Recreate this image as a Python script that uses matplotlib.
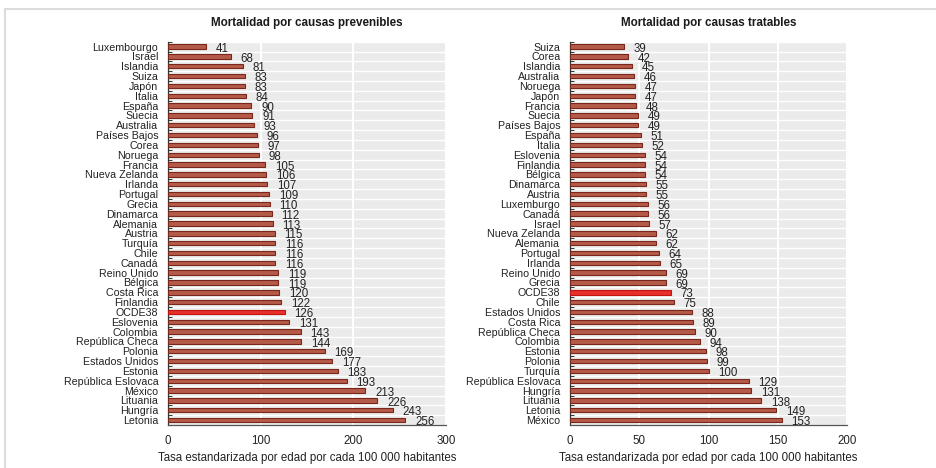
import matplotlib.pyplot as plt
from matplotlib.lines import Line2D
import numpy as np

plt.rcParams['font.family'] = ['Liberation Sans', 'DejaVu Sans']

BAR = '#b45a49'
BAR_EDGE = '#7a261b'
OECD = '#e8302a'
OECD_EDGE = '#c0140f'
PANEL = '#ebebeb'

# preventable causes
prev_countries = [
    'Luxembourgo', 'Israel', 'Islandia', 'Suiza', 'Japón', 'Italia', 'España', 'Suecia',
    'Australia', 'Países Bajos', 'Corea', 'Noruega', 'Francia', 'Nueva Zelanda', 'Irlanda',
    'Portugal', 'Grecia', 'Dinamarca', 'Alemania', 'Austria', 'Turquía', 'Chile', 'Canadá',
    'Reino Unido', 'Bélgica', 'Costa Rica', 'Finlandia', 'OCDE38', 'Eslovenia', 'Colombia',
    'República Checa', 'Polonia', 'Estados Unidos', 'Estonia', 'República Eslovaca',
    'México', 'Lituania', 'Hungría', 'Letonia',
]
prev_values = [
    41, 68, 81, 83, 83, 84, 90, 91, 93, 96, 97, 98, 105, 106, 107, 109, 110, 112, 113,
    115, 116, 116, 116, 119, 119, 120, 122, 126, 131, 143, 144, 169, 177, 183, 193,
    213, 226, 243, 256,
]

# treatable causes
treat_countries = [
    'Suiza', 'Corea', 'Islandia', 'Australia', 'Noruega', 'Japón', 'Francia', 'Suecia',
    'Países Bajos', 'España', 'Italia', 'Eslovenia', 'Finlandia', 'Bélgica', 'Dinamarca',
    'Austria', 'Luxemburgo', 'Canadá', 'Israel', 'Nueva Zelanda', 'Alemania', 'Portugal',
    'Irlanda', 'Reino Unido', 'Grecia', 'OCDE38', 'Chile', 'Estados Unidos', 'Costa Rica',
    'República Checa', 'Colombia', 'Estonia', 'Polonia', 'Turquía', 'República Eslovaca',
    'Hungría', 'Lituania', 'Letonia', 'México',
]
treat_values = [
    39, 42, 45, 46, 47, 47, 48, 49, 49, 51, 52, 54, 54, 54, 55, 55, 56, 56, 57, 62, 62,
    64, 65, 69, 69, 73, 75, 88, 89, 90, 94, 98, 99, 100, 129, 131, 138, 149, 153,
]

XLABEL = 'Tasa estandarizada por edad por cada 100 000 habitantes'

fig = plt.figure(figsize=(9.36, 4.68), dpi=100)

# light frame from the screenshot
fig.add_artist(Line2D([5 / 936, 1], [1 - 9 / 468] * 2, color='#dcdcdc', lw=1.5))
fig.add_artist(Line2D([5 / 936] * 2, [0, 1 - 9 / 468], color='#dcdcdc', lw=1.5))


def draw(ax, countries, values, xmax, xticks, title):
    n = len(countries)
    y = np.arange(n)
    colors = [OECD if c == 'OCDE38' else BAR for c in countries]
    edges = [OECD_EDGE if c == 'OCDE38' else BAR_EDGE for c in countries]
    ax.barh(y, values, height=0.45, color=colors, edgecolor=edges, linewidth=0.8, zorder=3)
    for yi, v in zip(y, values):
        ax.annotate(str(v), (v, yi), xytext=(7, -1.5), textcoords='offset points',
                    va='center', ha='left', fontsize=8.3, color='#222222', zorder=4)

    ax.set_facecolor(PANEL)
    ax.set_xlim(0, xmax)
    ax.set_ylim(n - 0.5, -0.5)
    ax.set_xticks(xticks)
    ax.set_yticks(y)
    ax.set_yticklabels(countries, fontsize=7.7, color='#222222')
    ax.set_yticks(np.arange(n + 1) - 0.5, minor=True)
    ax.tick_params(axis='y', which='major', length=0, pad=7)
    ax.tick_params(axis='y', which='minor', direction='in', length=3, width=0.7, color='#333333')
    ax.tick_params(axis='x', length=0, labelsize=8.3, pad=7, labelcolor='#222222')

    ax.grid(axis='x', color='white', lw=1.5, zorder=1)
    ax.grid(axis='y', which='minor', color='white', lw=1.0, zorder=1)
    ax.grid(axis='y', which='major', visible=False)

    for s in ['top', 'right']:
        ax.spines[s].set_visible(False)
    ax.spines['left'].set_color('#333333')
    ax.spines['left'].set_linewidth(0.9)
    ax.spines['bottom'].set_color('#555555')
    ax.spines['bottom'].set_linewidth(0.9)

    ax.set_xlabel(XLABEL, fontsize=8.3, labelpad=4, color='#222222')
    ax.set_title(title, fontsize=8.4, fontweight='bold', pad=11, color='#1a1a1a')


ax1 = fig.add_axes([168 / 936, 1 - 425 / 468, 278 / 936, 383.3 / 468])
draw(ax1, prev_countries, prev_values, 300, [0, 100, 200, 300],
     'Mortalidad por causas prevenibles')

ax2 = fig.add_axes([570 / 936, 1 - 425 / 468, 277 / 936, 383.3 / 468])
draw(ax2, treat_countries, treat_values, 200, [0, 50, 100, 150, 200],
     'Mortalidad por causas tratables')

fig.savefig('out.png', dpi=100)
